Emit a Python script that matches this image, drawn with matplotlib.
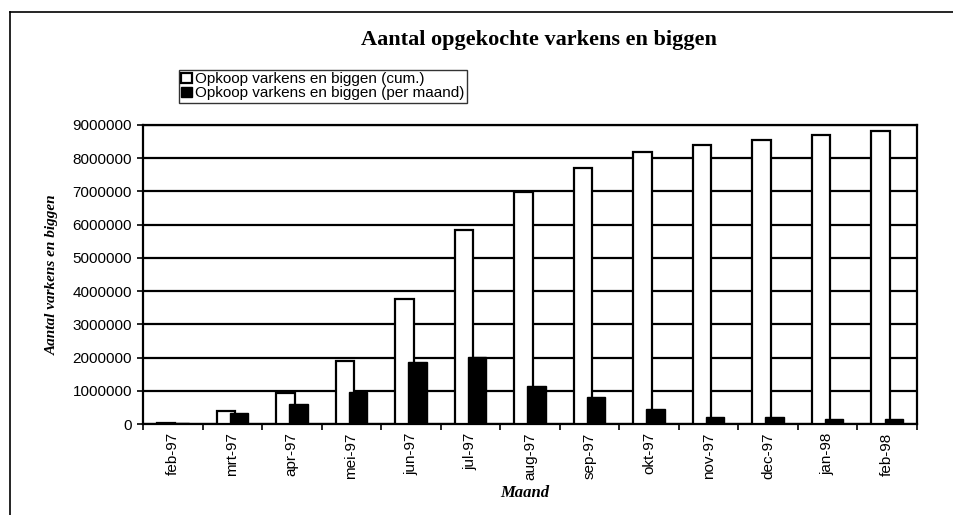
import numpy as np
import matplotlib
matplotlib.use("Agg")
from matplotlib import pyplot as plt
from matplotlib.lines import Line2D

# data
maanden = ["feb-97", "mrt-97", "apr-97", "mei-97", "jun-97", "jul-97", "aug-97",
           "sep-97", "okt-97", "nov-97", "dec-97", "jan-98", "feb-98"]
cumulatief = [30000, 380000, 920000, 1890000, 3770000, 5830000, 6980000,
              7710000, 8190000, 8390000, 8550000, 8700000, 8820000]
per_maand = [30000, 320000, 600000, 950000, 1860000, 2030000, 1130000,
             820000, 440000, 200000, 200000, 150000, 140000]
y_ticks = list(range(0, 9000001, 1000000))

serif = "Liberation Serif"
sans = "Liberation Sans"

fig = plt.figure(figsize=(9.54, 5.15), dpi=100)
ax = fig.add_axes([143 / 954, 1 - 424 / 515, (917 - 143) / 954, (424 - 125) / 515])

x = np.arange(len(maanden))
w = 0.31
ax.bar(x - 0.11, cumulatief, w, color="white", edgecolor="black", linewidth=1.6,
       zorder=3, label="Opkoop varkens en biggen (cum.)")
ax.bar(x + 0.11, per_maand, w, color="black", edgecolor="black", linewidth=1.0,
       zorder=4, label="Opkoop varkens en biggen (per maand)")

ax.set_xlim(-0.5, len(maanden) - 0.5)
ax.set_ylim(0, 9000000)
ax.set_yticks(y_ticks)
ax.set_yticklabels([str(v) for v in y_ticks], fontsize=11, family=sans)
ax.yaxis.grid(True, color="black", linewidth=1.6, zorder=1)
ax.set_axisbelow(True)

ax.set_xticks(x)
ax.set_xticklabels(maanden, rotation=90, fontsize=11, family=sans)
ax.set_xticks(np.arange(-0.5, len(maanden)), minor=True)
ax.tick_params(axis="x", which="major", length=0, pad=6)
ax.tick_params(axis="x", which="minor", length=4, width=1.2, direction="out")
ax.tick_params(axis="y", length=4, width=1.2, direction="out", pad=4)

for s in ax.spines.values():
    s.set_linewidth(1.6)
    s.set_color("black")

ax.set_ylabel("Aantal varkens en biggen", family=serif, style="italic",
              weight="bold", fontsize=11, labelpad=10)

fig.text(525 / 954, 1 - 493 / 515, "Maand", family=serif, style="italic",
         weight="bold", fontsize=12, ha="center", va="center")
fig.text(539 / 954, 1 - 40 / 515, "Aantal opgekochte varkens en biggen",
         family=serif, weight="bold", fontsize=16, ha="center", va="center")

leg = fig.legend(loc="upper left", bbox_to_anchor=(179 / 954, 1 - 70 / 515),
                 prop={"family": sans, "size": 11}, frameon=True,
                 fancybox=False, edgecolor="black", handlelength=0.7,
                 handleheight=0.7, handletextpad=0.2, labelspacing=0.0,
                 borderpad=0.15, borderaxespad=0)
leg.get_frame().set_linewidth(1.0)

# outer border of the scanned figure (left and top only)
for xs, ys in [([10, 10], [12, 515]), ([10, 954], [12, 12])]:
    fig.add_artist(Line2D([v / 954 for v in xs], [1 - v / 515 for v in ys],
                          color="black", linewidth=1.2))

fig.savefig("out.png", dpi=100)
